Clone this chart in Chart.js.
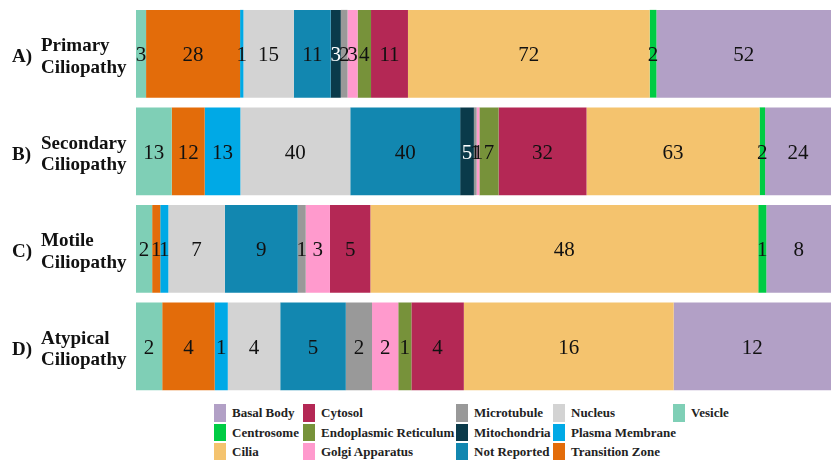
<!DOCTYPE html>
<html lang="en">
<head>
    <meta charset="UTF-8">
    <title>Ciliopathy localisation</title>
    <script src="https://cdn.jsdelivr.net/npm/chart.js"></script>
    <style>
        * {
            margin: 0;
            padding: 0;
            box-sizing: border-box;
        }

        body {
            width: 831px;
            height: 460px;
            background: white;
            font-family: 'Liberation Serif', 'Times New Roman', 'DejaVu Serif', serif;
            overflow: hidden;
        }

        .wrap {
            position: relative;
            width: 831px;
            height: 460px;
        }

        .chart-box {
            position: absolute;
            left: 0;
            top: 0;
            width: 831px;
            height: 400px;
        }

        .legend {
            position: absolute;
            left: 214px;
            top: 403px;
            display: grid;
            grid-auto-flow: column;
            grid-template-rows: repeat(3, 19.7px);
            grid-template-columns: 89px 153px 97px 120px auto;
        }

        .legend-item {
            display: flex;
            align-items: center;
            font-size: 13px;
            font-weight: bold;
            color: #222;
            white-space: nowrap;
        }

        .legend-box {
            width: 12px;
            height: 17.5px;
            margin-right: 6px;
            flex: none;
        }
    </style>
</head>
<body>
    <div class="wrap">
        <div class="chart-box">
            <canvas id="locChart"></canvas>
        </div>
        <div class="legend" id="legend"></div>
    </div>

    <script>
        const serifFont = '"Liberation Serif", "Times New Roman", "DejaVu Serif", serif';

        // categories (rows, top to bottom)
        const prefixes = ['A)', 'B)', 'C)', 'D)'];
        const categories = ['Primary', 'Secondary', 'Motile', 'Atypical'];

        // counts per location, in the order they are stacked left to right
        const vesicle = [3, 13, 2, 2];
        const transitionZone = [28, 12, 1, 4];
        const plasmaMembrane = [1, 13, 1, 1];
        const nucleus = [15, 40, 7, 4];
        const notReported = [11, 40, 9, 5];
        const mitochondria = [3, 5, 0, 0];
        const microtubule = [2, 1, 1, 2];
        const golgi = [3, 1, 3, 2];
        const endoplasmic = [4, 7, 0, 1];
        const cytosol = [11, 32, 5, 4];
        const cilia = [72, 63, 48, 16];
        const centrosome = [2, 2, 1, 0];
        const basalBody = [52, 24, 8, 12];

        const series = [
            { label: 'Vesicle', counts: vesicle, color: '#7fcfb6' },
            { label: 'Transition Zone', counts: transitionZone, color: '#e36c0a' },
            { label: 'Plasma Membrane', counts: plasmaMembrane, color: '#00a9e6' },
            { label: 'Nucleus', counts: nucleus, color: '#d3d3d3' },
            { label: 'Not Reported', counts: notReported, color: '#1287b0' },
            { label: 'Mitochondria', counts: mitochondria, color: '#0a3a4a', text: '#ffffff' },
            { label: 'Microtubule', counts: microtubule, color: '#999999' },
            { label: 'Golgi Apparatus', counts: golgi, color: '#ff9acd' },
            { label: 'Endoplasmic Reticulum', counts: endoplasmic, color: '#77923a' },
            { label: 'Cytosol', counts: cytosol, color: '#b42855' },
            { label: 'Cilia', counts: cilia, color: '#f4c36e' },
            { label: 'Centrosome', counts: centrosome, color: '#00cc44' },
            { label: 'Basal Body', counts: basalBody, color: '#b2a0c6' }
        ];

        // each row is shown as a 100% bar
        const totals = categories.map((_, i) => series.reduce((s, d) => s + d.counts[i], 0));

        const datasets = series.map(d => ({
            label: d.label,
            data: d.counts.map((v, i) => v / totals[i] * 100),
            counts: d.counts,
            labelColor: d.text || '#111111',
            backgroundColor: d.color,
            borderWidth: 0,
            barPercentage: 0.9,
            categoryPercentage: 1
        }));

        // numbers inside the segments
        const segmentLabels = {
            id: 'segmentLabels',
            afterDatasetsDraw(chart) {
                const ctx = chart.ctx;
                ctx.save();
                ctx.font = '21px ' + serifFont;
                ctx.textAlign = 'center';
                ctx.textBaseline = 'middle';
                chart.data.datasets.forEach((ds, di) => {
                    chart.getDatasetMeta(di).data.forEach((bar, i) => {
                        const v = ds.counts[i];
                        if (!v) return;
                        const p = bar.getCenterPoint();
                        ctx.fillStyle = ds.labelColor;
                        ctx.fillText(v, p.x, p.y + 2);
                    });
                });
                ctx.restore();
            }
        };

        // two-line row names with the letter in front
        const rowNames = {
            id: 'rowNames',
            afterDraw(chart) {
                const ctx = chart.ctx;
                const y = chart.scales.y;
                ctx.save();
                ctx.font = 'bold 19px ' + serifFont;
                ctx.fillStyle = '#111111';
                ctx.textAlign = 'left';
                ctx.textBaseline = 'alphabetic';
                categories.forEach((name, i) => {
                    const cy = y.getPixelForValue(i);
                    ctx.fillText(prefixes[i], 12, cy + 8.5);
                    ctx.fillText(name, 41, cy - 2.5);
                    ctx.fillText('Ciliopathy', 41, cy + 19);
                });
                ctx.restore();
            }
        };

        new Chart(document.getElementById('locChart'), {
            type: 'bar',
            data: { labels: categories, datasets: datasets },
            options: {
                indexAxis: 'y',
                responsive: true,
                maintainAspectRatio: false,
                animation: false,
                layout: { padding: { left: 136, right: 0, top: 5, bottom: 5 } },
                scales: {
                    x: { stacked: true, min: 0, max: 100, display: false },
                    y: { stacked: true, display: false }
                },
                plugins: {
                    legend: { display: false },
                    tooltip: { enabled: false }
                }
            },
            plugins: [segmentLabels, rowNames]
        });

        // legend: alphabetical, filled column by column
        const legend = document.getElementById('legend');
        series.slice().sort((a, b) => a.label.localeCompare(b.label)).forEach(d => {
            const item = document.createElement('div');
            item.className = 'legend-item';
            const box = document.createElement('span');
            box.className = 'legend-box';
            box.style.background = d.color;
            item.appendChild(box);
            item.appendChild(document.createTextNode(d.label));
            legend.appendChild(item);
        });
    </script>
</body>
</html>
